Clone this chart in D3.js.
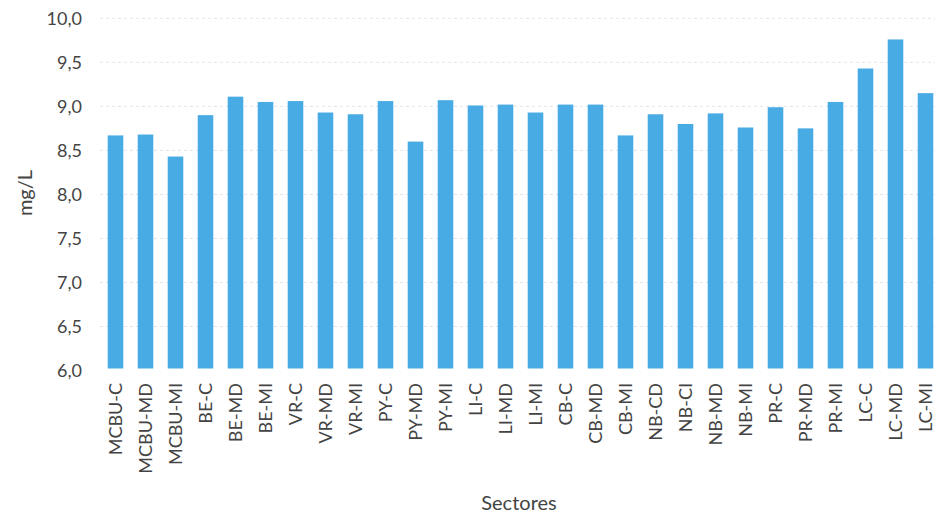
<!DOCTYPE html>
<html>
<head>
<meta charset="utf-8">
<script src="https://cdn.jsdelivr.net/npm/d3@7/dist/d3.min.js"></script>
<style>
  html, body { margin: 0; padding: 0; background: #fff; }
  svg { display: block; }
  text { font-family: Lato, "Open Sans", sans-serif; fill: #444; }
</style>
</head>
<body>
<svg id="chart" width="935" height="517"></svg>
<script>
// Sampling sectors along the x axis
const sectores = [
  "MCBU-C", "MCBU-MD", "MCBU-MI", "BE-C", "BE-MD", "BE-MI", "VR-C", "VR-MD", "VR-MI",
  "PY-C", "PY-MD", "PY-MI", "LI-C", "LI-MD", "LI-MI", "CB-C", "CB-MD", "CB-MI",
  "NB-CD", "NB-CI", "NB-MD", "NB-MI", "PR-C", "PR-MD", "PR-MI", "LC-C", "LC-MD", "LC-MI"
];
// Concentration per sector (mg/L)
const valores = [
  8.67, 8.68, 8.43, 8.90, 9.11, 9.05, 9.06, 8.93, 8.91,
  9.06, 8.60, 9.07, 9.01, 9.02, 8.93, 9.02, 9.02, 8.67,
  8.91, 8.80, 8.92, 8.76, 8.99, 8.75, 9.05, 9.43, 9.76, 9.15
];
// Value-axis ticks
const ticksY = [6.0, 6.5, 7.0, 7.5, 8.0, 8.5, 9.0, 9.5, 10.0];

const svg = d3.select("#chart");
const fmt = v => d3.format(".1f")(v).replace(".", ",");

const y = d3.scaleLinear().domain([6, 10]).range([370.5, 18.3]);
const x = d3.scaleBand().domain(sectores).range([100.5, 940.5]).paddingInner(0.48).paddingOuter(0.24);

// Faint dashed gridlines
svg.append("g")
  .selectAll("line")
  .data(ticksY.filter(t => t > 6))
  .join("line")
  .attr("x1", 100).attr("x2", 935)
  .attr("y1", d => y(d)).attr("y2", d => y(d))
  .attr("stroke", "#e4e4e4")
  .attr("stroke-width", 1)
  .attr("stroke-dasharray", "3,3");

// Bars
svg.append("g")
  .selectAll("rect")
  .data(valores)
  .join("rect")
  .attr("x", (d, i) => x(sectores[i]))
  .attr("width", x.bandwidth())
  .attr("y", d => y(d))
  .attr("height", d => y(6) - 2 - y(d))
  .attr("fill", "#48abe4");

// Y axis
const yAxis = svg.append("g")
  .attr("transform", "translate(82,0)")
  .call(d3.axisLeft(y).tickValues(ticksY).tickFormat(fmt).tickSize(0).tickPadding(0));
yAxis.select(".domain").remove();
yAxis.selectAll("text")
  .style("font-size", "18px")
  .style("fill", "#444")
  .style("font-family", "Lato, 'Open Sans', sans-serif");

// X axis
const xAxis = svg.append("g")
  .attr("transform", "translate(0,370)")
  .call(d3.axisBottom(x).tickSize(0).tickPadding(0));
xAxis.select(".domain").remove();
xAxis.selectAll("text")
  .attr("transform", "rotate(-90)")
  .attr("x", -13)
  .attr("y", 0)
  .attr("dy", "0.35em")
  .style("text-anchor", "end")
  .style("font-size", "18px")
  .style("fill", "#444")
  .style("font-family", "Lato, 'Open Sans', sans-serif");

// Axis titles
svg.append("text")
  .attr("x", 519).attr("y", 510)
  .attr("text-anchor", "middle")
  .style("font-size", "20px")
  .text("Sectores");

svg.append("text")
  .attr("transform", "translate(32,193) rotate(-90)")
  .attr("text-anchor", "middle")
  .style("font-size", "20px")
  .text("mg/L");
</script>
</body>
</html>
